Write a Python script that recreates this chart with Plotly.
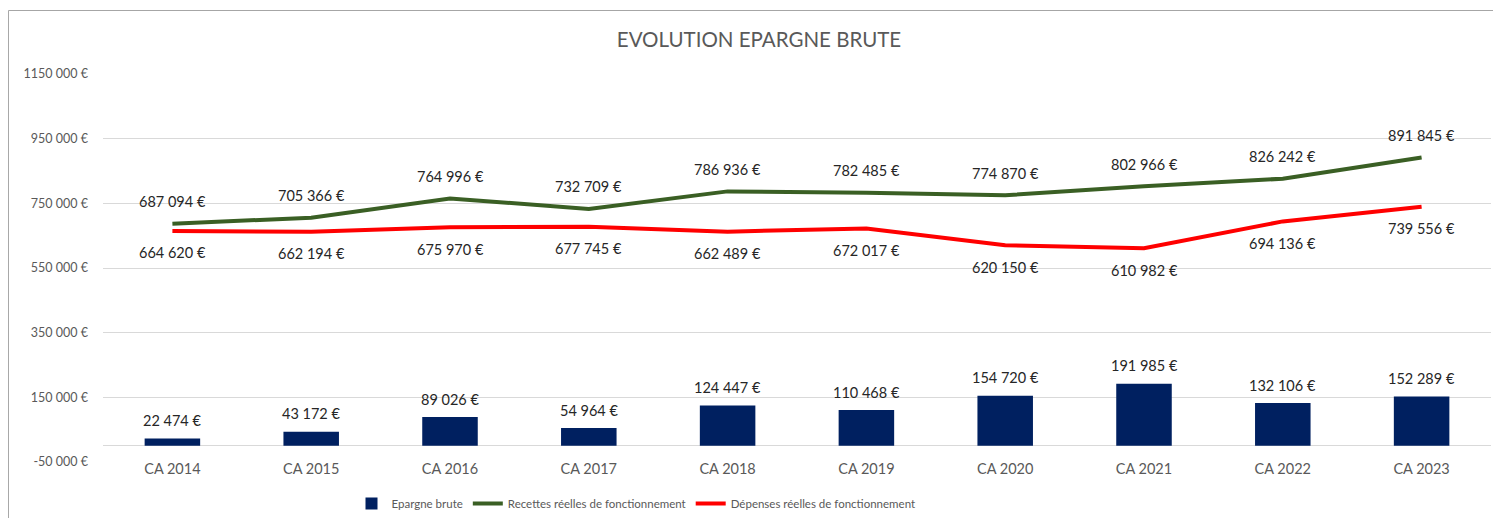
import plotly.graph_objects as go

categories = ["CA 2014", "CA 2015", "CA 2016", "CA 2017", "CA 2018",
              "CA 2019", "CA 2020", "CA 2021", "CA 2022", "CA 2023"]
epargne = [22474, 43172, 89026, 54964, 124447, 110468, 154720, 191985, 132106, 152289]
recettes = [687094, 705366, 764996, 732709, 786936, 782485, 774870, 802966, 826242, 891845]
depenses = [664620, 662194, 675970, 677745, 662489, 672017, 620150, 610982, 694136, 739556]
tick_vals = [-50000, 150000, 350000, 550000, 750000, 950000, 1150000]
tick_text = ["-50 000 €", "150 000 €", "350 000 €", "550 000 €", "750 000 €", "950 000 €", "1150 000 €"]


def fmt(v):
    return f"{v:,}".replace(",", " ") + " €"


# the page body has an 8px margin, so the figure is drawn at (8, 8)
W, H = 1493, 510
OFF = 8
PL, PR, PT, PB = 103 - OFF, 1490.6 - OFF, 74 - OFF, 462 - OFF  # plot area in figure px
PW, PH = PR - PL, PB - PT

FONT = "Lato, 'Open Sans', sans-serif"
label_font = dict(family=FONT, size=14.5, color="#262626")

fig = go.Figure()
fig.add_trace(go.Bar(
    x=categories, y=epargne, name="Epargne brute",
    marker=dict(color="#002060", line=dict(width=0)),
    width=0.4,
))
fig.add_trace(go.Scatter(
    x=categories, y=recettes, name="Recettes réelles de fonctionnement",
    mode="lines", line=dict(color="#3A5F24", width=4),
))
fig.add_trace(go.Scatter(
    x=categories, y=depenses, name="Dépenses réelles de fonctionnement",
    mode="lines", line=dict(color="#FF0000", width=4),
))

annotations = []
for c, v in zip(categories, epargne):
    annotations.append(dict(x=c, y=v, text=fmt(v), showarrow=False,
                            yshift=18, font=label_font))
for c, v in zip(categories, recettes):
    annotations.append(dict(x=c, y=v, text=fmt(v), showarrow=False,
                            yshift=22, font=label_font))
for c, v in zip(categories, depenses):
    annotations.append(dict(x=c, y=v, text=fmt(v), showarrow=False,
                            yshift=-22, font=label_font))

fig.update_layout(
    width=W, height=H,
    margin=dict(l=PL, r=W - PR, t=PT, b=H - PB, autoexpand=False),
    paper_bgcolor="white", plot_bgcolor="white",
    title=dict(text="EVOLUTION EPARGNE BRUTE", x=(759 - OFF) / W, xanchor="center",
               xref="container", yref="container",
               y=1 - (40 - OFF) / H, yanchor="middle",
               font=dict(family=FONT, size=20.5, color="#595959")),
    font=dict(family=FONT, color="#595959"),
    showlegend=True,
    legend=dict(orientation="h", x=(636 - OFF) / W, xanchor="center",
                xref="container", yref="container",
                y=1 - (489 - OFF) / H, yanchor="top",
                font=dict(family="'Liberation Sans Narrow', Lato, sans-serif",
                          size=11.5, color="#595959"),
                itemwidth=30, traceorder="normal", tracegroupgap=0),
    bargap=0.6,
    annotations=annotations,
    xaxis=dict(showgrid=False, showline=False, ticks="", automargin=False,
               tickfont=dict(family=FONT, size=14.5, color="#595959"),
               ticklabelstandoff=-4),
    yaxis=dict(range=[-50000, 1150000], tickvals=tick_vals, ticktext=tick_text,
               showgrid=True, gridcolor="#D9D9D9", gridwidth=1, automargin=False,
               zeroline=True, zerolinecolor="#D9D9D9", zerolinewidth=1,
               showline=False, ticks="", ticklabelstandoff=14,
               tickfont=dict(family=FONT, size=12.5, color="#595959")),
    shapes=[dict(type="rect", xref="paper", yref="paper",
                 x0=(0.5 - PL) / PW, x1=(W + 20 - PL) / PW,
                 y0=(PB - (H + 20)) / PH, y1=(PB - 2.5) / PH,
                 line=dict(color="#A6A6A6", width=1), fillcolor="rgba(0,0,0,0)",
                 layer="below")],
)

fig.write_html("out.html")
